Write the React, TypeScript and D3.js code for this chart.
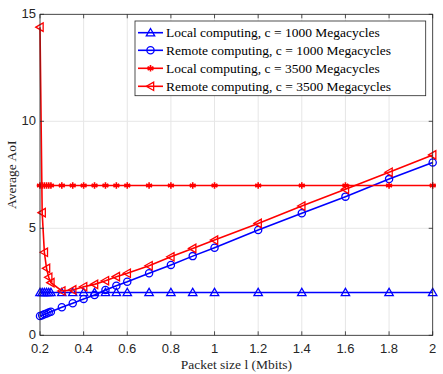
import React from "react";
import * as d3 from "d3";

// x values (Mbits)
const packetSizes = [0.2, 0.21, 0.22, 0.23, 0.24, 0.25, 0.3, 0.35, 0.4, 0.45, 0.5, 0.55, 0.6, 0.7, 0.8, 0.9, 1, 1.2, 1.4, 1.6, 1.8, 2];

const localC1000 = [2, 2, 2, 2, 2, 2, 2, 2, 2, 2, 2, 2, 2, 2, 2, 2, 2, 2, 2, 2, 2, 2];
const remoteC1000 = [0.9, 0.94, 0.98, 1.02, 1.06, 1.1, 1.31, 1.5, 1.7, 1.88, 2.12, 2.32, 2.5, 2.9, 3.29, 3.7, 4.09, 4.92, 5.7, 6.48, 7.3, 8.08];
const localC3500 = [7, 7, 7, 7, 7, 7, 7, 7, 7, 7, 7, 7, 7, 7, 7, 7, 7, 7, 7, 7, 7, 7];
const remoteC3500 = [14.4, 5.73, 3.88, 3.13, 2.71, 2.46, 2.07, 2.12, 2.27, 2.38, 2.55, 2.74, 2.9, 3.25, 3.67, 4.06, 4.45, 5.23, 6.04, 6.82, 7.62, 8.43];

const xTicks = [0.2, 0.4, 0.6, 0.8, 1, 1.2, 1.4, 1.6, 1.8, 2];
const yTicks = [0, 5, 10, 15];

const seriesNames = [
  "Local computing, c = 1000 Megacycles",
  "Remote computing, c = 1000 Megacycles",
  "Local computing, c = 3500 Megacycles",
  "Remote computing, c = 3500 Megacycles",
];

const W = 443;
const H = 374;
const margin = { left: 40, right: 10.3, top: 14.3, bottom: 38.7 };
const serif = "'Liberation Serif', 'Times New Roman', Times, serif";
const sans = "'Liberation Sans', Arial, Helvetica, sans-serif";

type MarkerKind = "tri" | "circle" | "star" | "left";

function Marker({ kind, x, y, color }: { kind: MarkerKind; x: number; y: number; color: string }) {
  if (kind === "circle") {
    return <circle cx={x} cy={y} r={3.6} fill="none" stroke={color} strokeWidth={1.3} />;
  }
  if (kind === "tri") {
    const s = 4.2;
    return (
      <path
        d={`M${x},${y - s}L${x + s},${y + s * 0.75}L${x - s},${y + s * 0.75}Z`}
        fill="none"
        stroke={color}
        strokeWidth={1.3}
      />
    );
  }
  if (kind === "left") {
    const s = 4.2;
    return (
      <path
        d={`M${x - s},${y}L${x + s * 0.75},${y - s}L${x + s * 0.75},${y + s}Z`}
        fill="none"
        stroke={color}
        strokeWidth={1.3}
      />
    );
  }
  const r = 3.3;
  const lines = [0, 60, 120].map((a) => {
    const rad = (a * Math.PI) / 180;
    return `M${x - r * Math.sin(rad)},${y - r * Math.cos(rad)}L${x + r * Math.sin(rad)},${y + r * Math.cos(rad)}`;
  });
  return (
    <g>
      <path d={lines.join("") + `M${x - r},${y}L${x + r},${y}`} stroke={color} strokeWidth={1.6} />
      <circle cx={x} cy={y} r={1.6} fill={color} />
    </g>
  );
}

export default function App() {
  const x = d3.scaleLinear().domain([0.2, 2]).range([margin.left, W - margin.right]);
  const y = d3.scaleLinear().domain([0, 15]).range([H - margin.bottom, margin.top]);

  const series = [
    { name: seriesNames[0], values: localC1000, color: "#0000ff", kind: "tri" as MarkerKind },
    { name: seriesNames[1], values: remoteC1000, color: "#0000ff", kind: "circle" as MarkerKind },
    { name: seriesNames[2], values: localC3500, color: "#ff0000", kind: "star" as MarkerKind },
    { name: seriesNames[3], values: remoteC3500, color: "#ff0000", kind: "left" as MarkerKind },
  ];

  const line = d3
    .line<number>()
    .x((_, i) => x(packetSizes[i]))
    .y((d) => y(d));

  const x0 = x.range()[0];
  const x1 = x.range()[1];
  const y0 = y.range()[0];
  const y1 = y.range()[1];
  const axisColor = "#262626";

  const legend = { x: 135, y: 21, w: 290.7, h: 74.7 };
  const rowY = [32.7, 50.3, 68.3, 86.3];

  return (
    <svg width={W} height={H} style={{ position: "absolute", left: 0, top: 0, background: "#fff" }}>
      <rect x={0} y={0} width={W} height={H} fill="#fff" />
      {/* grid */}
      {xTicks.map((t) => (
        <line key={"gx" + t} x1={x(t)} x2={x(t)} y1={y0} y2={y1} stroke="#e6e6e6" strokeWidth={1} />
      ))}
      {yTicks.map((t) => (
        <line key={"gy" + t} x1={x0} x2={x1} y1={y(t)} y2={y(t)} stroke="#e6e6e6" strokeWidth={1} />
      ))}
      {/* series */}
      {series.map((s) => (
        <g key={s.name}>
          <path d={line(s.values) || ""} fill="none" stroke={s.color} strokeWidth={1.6} />
          {s.values.map((v, i) => (
            <Marker key={i} kind={s.kind} x={x(packetSizes[i])} y={y(v)} color={s.color} />
          ))}
        </g>
      ))}
      {/* axes box */}
      <rect x={x0} y={y1} width={x1 - x0} height={y0 - y1} fill="none" stroke={axisColor} strokeWidth={0.8} />
      {xTicks.map((t) => (
        <g key={"tx" + t}>
          <line x1={x(t)} x2={x(t)} y1={y0} y2={y0 - 4} stroke={axisColor} strokeWidth={0.8} />
          <line x1={x(t)} x2={x(t)} y1={y1} y2={y1 + 4} stroke={axisColor} strokeWidth={0.8} />
          <text x={x(t)} y={y0 + 17.5} textAnchor="middle" fontFamily={sans} fontSize={13} fill={axisColor}>
            {d3.format("")(t)}
          </text>
        </g>
      ))}
      {yTicks.map((t) => (
        <g key={"ty" + t}>
          <line x1={x0} x2={x0 + 4} y1={y(t)} y2={y(t)} stroke={axisColor} strokeWidth={0.8} />
          <line x1={x1} x2={x1 - 4} y1={y(t)} y2={y(t)} stroke={axisColor} strokeWidth={0.8} />
          <text x={x0 - 4} y={y(t) + 4} textAnchor="end" fontFamily={sans} fontSize={13} fill={axisColor}>
            {t}
          </text>
        </g>
      ))}
      {/* axis labels */}
      <text x={(x0 + x1) / 2} y={369} textAnchor="middle" fontFamily={serif} fontSize={13.5} fill={axisColor}>
        Packet size l (Mbits)
      </text>
      <text
        transform={`translate(16,${(y0 + y1) / 2}) rotate(-90)`}
        textAnchor="middle"
        fontFamily={serif}
        fontSize={13.5}
        fill={axisColor}
      >
        Average AoI
      </text>
      {/* legend */}
      <rect x={legend.x} y={legend.y} width={legend.w} height={legend.h} fill="#fff" stroke={axisColor} strokeWidth={0.8} />
      {series.map((s, i) => (
        <g key={"lg" + i}>
          <line x1={138} x2={163} y1={rowY[i]} y2={rowY[i]} stroke={s.color} strokeWidth={1.6} />
          <Marker kind={s.kind} x={150.5} y={rowY[i]} color={s.color} />
          <text x={166} y={rowY[i] + 4.5} fontFamily={serif} fontSize={13.5} fill="#000">
            {s.name}
          </text>
        </g>
      ))}
    </svg>
  );
}
